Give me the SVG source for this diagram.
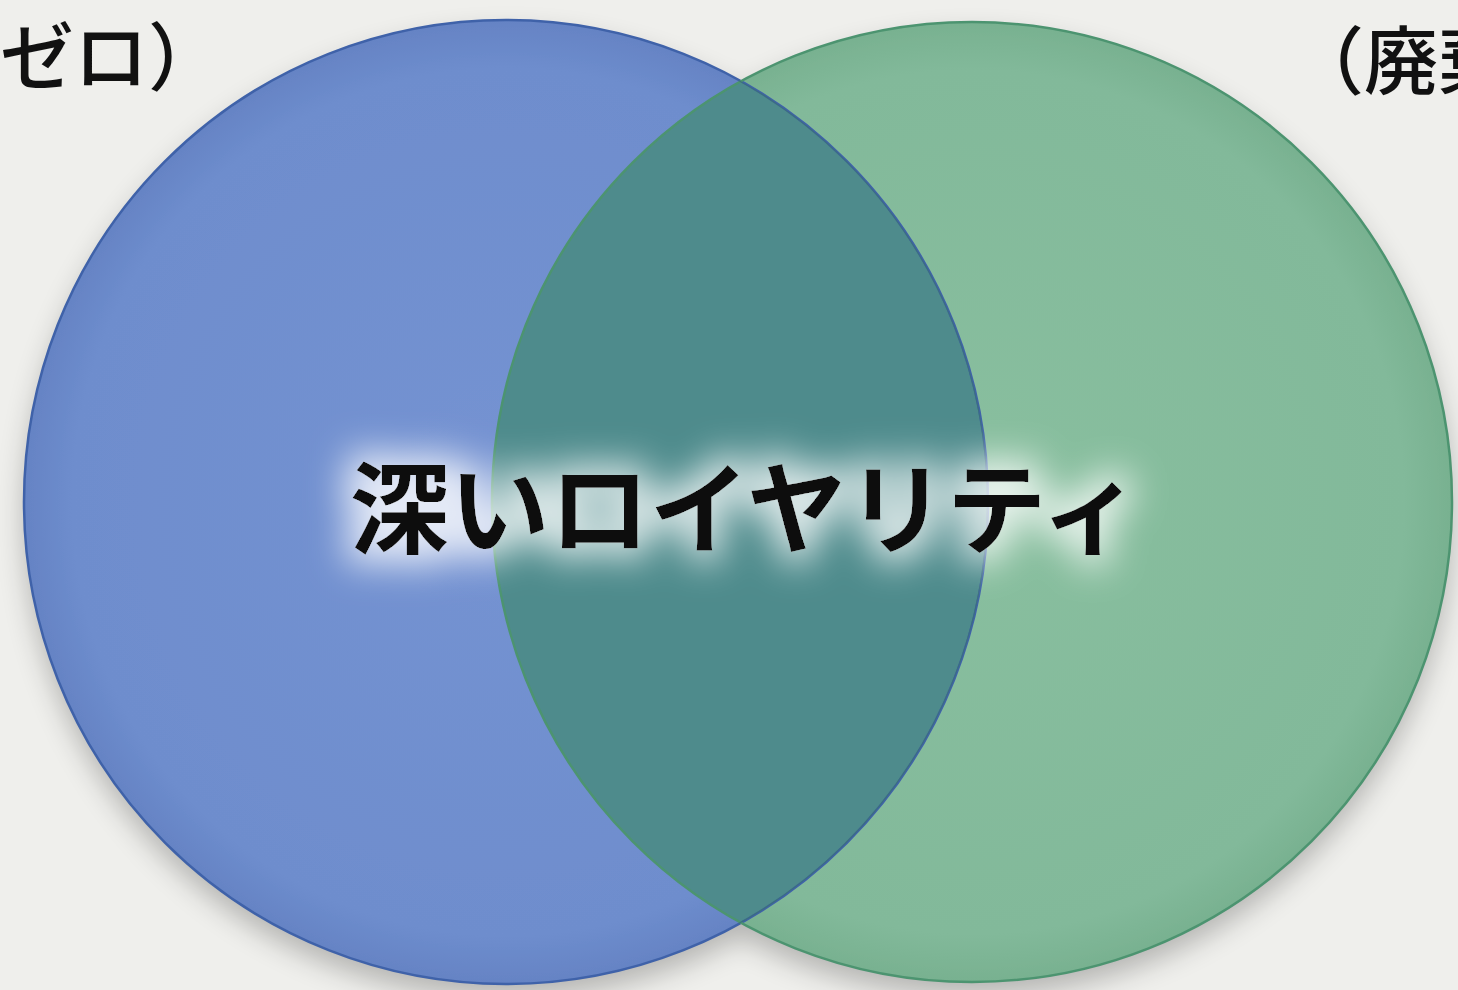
<svg xmlns="http://www.w3.org/2000/svg" width="1458" height="990" viewBox="0 0 1458 990">
<defs>
<style>
.label{font-family:"Noto Sans CJK JP","Noto Sans CJK SC",sans-serif;fill:#111;}
.side{font-size:74px;font-weight:500;}
.main{font-size:100px;font-weight:700;}
</style>
<radialGradient id="gBlue" cx="0.5" cy="0.5" r="0.5">
<stop offset="0" stop-color="#7593d2"/>
<stop offset="0.9" stop-color="#6e8dcd"/>
<stop offset="1" stop-color="#6583c4"/>
</radialGradient>
<radialGradient id="gGreen" cx="0.5" cy="0.5" r="0.5">
<stop offset="0" stop-color="#89bf9f"/>
<stop offset="0.9" stop-color="#82b99a"/>
<stop offset="1" stop-color="#78b190"/>
</radialGradient>
<clipPath id="clipBlue"><circle cx="506" cy="502" r="482"/></clipPath>
<filter id="shadow" x="-20%" y="-20%" width="140%" height="150%">
<feGaussianBlur in="SourceAlpha" stdDeviation="14"/>
<feOffset dy="14" result="b"/>
<feComponentTransfer><feFuncA type="linear" slope="0.25"/></feComponentTransfer>
<feMerge><feMergeNode/><feMergeNode in="SourceGraphic"/></feMerge>
</filter>
<filter id="glow" x="-20%" y="-60%" width="140%" height="220%">
<feMorphology in="SourceAlpha" operator="dilate" radius="10" result="d"/>
<feFlood flood-color="#ffffff" flood-opacity="0.8"/>
<feComposite in2="d" operator="in"/>
<feGaussianBlur stdDeviation="18" result="g"/>
<feMerge><feMergeNode in="g"/><feMergeNode in="SourceGraphic"/></feMerge>
</filter>
</defs>
<rect width="1458" height="990" fill="#efefec"/>
<g id="circles" filter="url(#shadow)">
<g id="blue-circle">
<circle cx="506" cy="502" r="482" fill="url(#gBlue)"/>
</g>
<g id="green-circle">
<circle cx="972" cy="502" r="480" fill="url(#gGreen)"/>
</g>
</g>
<g id="overlap">
<circle cx="972" cy="502" r="480" fill="#4e8b8c" clip-path="url(#clipBlue)"/>
</g>
<g id="outlines" fill="none" stroke-width="2.5">
<circle cx="506" cy="502" r="482" stroke="#3f62a9"/>
<circle cx="972" cy="502" r="480" stroke="#4c9470"/>
<path d="M 739 80 A 482 482 0 0 1 739 924" stroke="#3c6e80" clip-path="url(#clipBlue)"/>
</g>
<g id="label-left"><text class="label side" x="222" y="84" text-anchor="end">ゼロ）</text></g>
<g id="label-right"><text class="label side" x="1290" y="88">（廃棄</text></g>
<g id="label-center" filter="url(#glow)"><text class="label main" x="745" y="546" text-anchor="middle">深いロイヤリティ</text></g>
</svg>
